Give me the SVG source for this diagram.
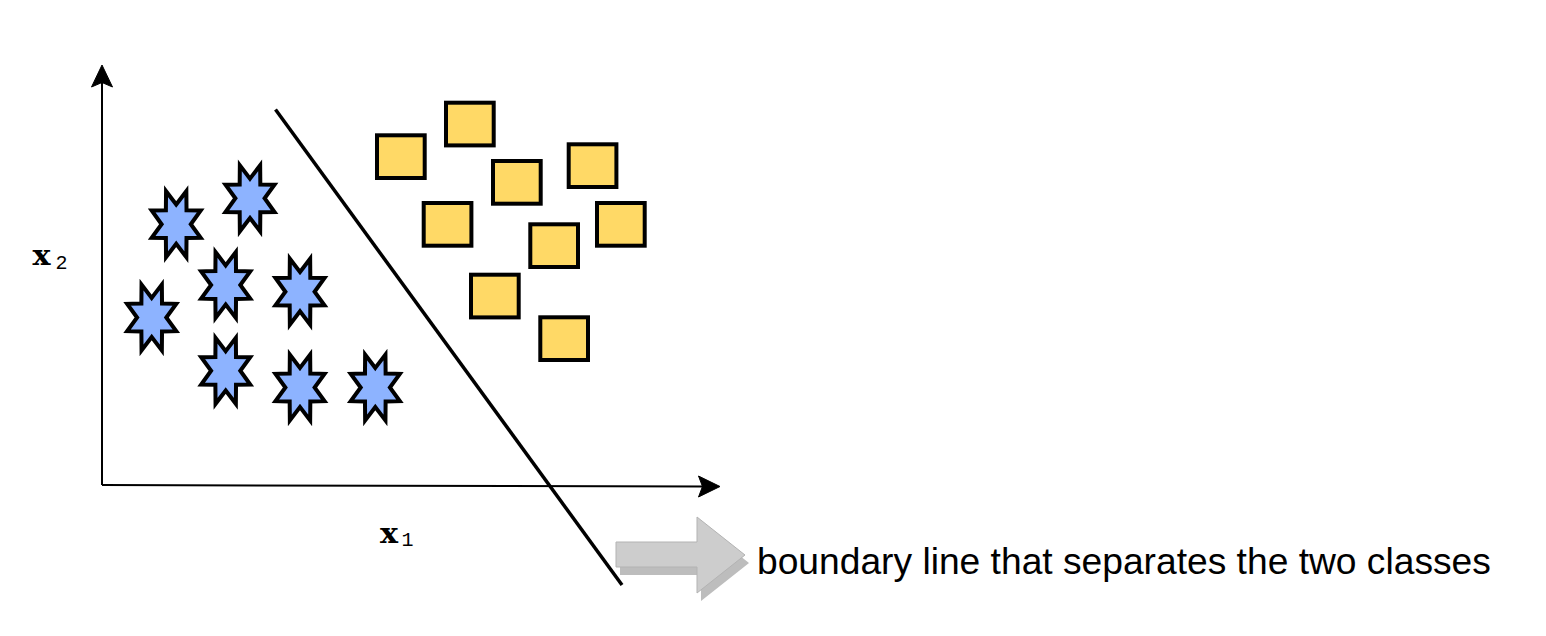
<svg xmlns="http://www.w3.org/2000/svg" width="1546" height="636" viewBox="0 0 1546 636">
  <style>
    .star { fill: #8DB3FF; stroke: #000000; stroke-width: 4; stroke-linejoin: miter; stroke-miterlimit: 6; }
    .sq { fill: #FFD966; stroke: #000000; stroke-width: 4; }
    .axis { fill: none; stroke: #000000; stroke-width: 2; }
    .head { fill: #000000; stroke: #000000; stroke-width: 1; }
    .var { font-family: "DejaVu Serif", "Liberation Serif", serif; font-weight: bold; fill: #000000; }
    .sub { font-family: "Liberation Mono", "Courier New", monospace; fill: #000000; }
    .caption { font-family: "Liberation Sans", Arial, sans-serif; font-size: 37.2px; fill: #000000; }
  </style>
  <defs>
    <path id="starShape" d="M0,-19.64 L10.15,-32.98 L10.32,-13.89 L24.52,-13.66 L14.6,0 L24.52,13.66 L10.32,13.89 L10.15,32.98 L0,19.64 L-10.15,32.98 L-10.32,13.89 L-24.52,13.66 L-14.6,0 L-24.52,-13.66 L-10.32,-13.89 L-10.15,-32.98 Z"/>
  </defs>
  <rect width="1546" height="636" fill="#FFFFFF"/>

  <g id="connectors">
    <path class="axis" d="M102,485 L102,80"/>
    <polygon class="head" points="102,65 112.5,87 102,82.5 91.5,87"/>
    <path class="axis" d="M102,485 L706,486.5"/>
    <polygon class="head" points="720,486.5 698.5,497 702.5,486.5 698.5,476"/>
    <line id="boundary" x1="275.5" y1="109.5" x2="622" y2="585" stroke="#000000" stroke-width="3.5"/>
  </g>

  <g id="label-x2">
    <text class="var" x="32.5" y="265" font-size="28" transform="translate(32.5,0) scale(1.08,1) translate(-32.5,0)">x</text>
    <text class="sub" x="55.5" y="269.3" font-size="20">2</text>
  </g>
  <g id="label-x1">
    <text class="var" x="380" y="543.3" font-size="28" transform="translate(380,0) scale(1.08,1) translate(-380,0)">x</text>
    <text class="sub" x="401.5" y="546" font-size="20">1</text>
  </g>

  <g id="stars">
    <use id="star1" href="#starShape" class="star" x="176.2" y="224.2"/>
    <use id="star2" href="#starShape" class="star" x="250" y="198.3"/>
    <use id="star3" href="#starShape" class="star" x="225.7" y="285"/>
    <use id="star4" href="#starShape" class="star" x="300" y="291.7"/>
    <use id="star5" href="#starShape" class="star" x="151.7" y="317.5"/>
    <use id="star6" href="#starShape" class="star" x="225.7" y="370.8"/>
    <use id="star7" href="#starShape" class="star" x="300" y="387.5"/>
    <use id="star8" href="#starShape" class="star" x="375.3" y="387.5"/>
  </g>

  <g id="squares">
    <rect id="sq1" class="sq" x="377" y="135.3" width="47.7" height="42.7"/>
    <rect id="sq2" class="sq" x="446" y="102.7" width="47.7" height="42.7"/>
    <rect id="sq3" class="sq" x="493" y="161" width="47.7" height="42.7"/>
    <rect id="sq4" class="sq" x="568.7" y="144.3" width="47.7" height="42.7"/>
    <rect id="sq5" class="sq" x="423.7" y="203" width="47.7" height="42.7"/>
    <rect id="sq6" class="sq" x="530.3" y="224.3" width="47.7" height="42.7"/>
    <rect id="sq7" class="sq" x="597" y="203" width="47.7" height="42.7"/>
    <rect id="sq8" class="sq" x="471" y="274.7" width="47.7" height="42.7"/>
    <rect id="sq9" class="sq" x="540.3" y="317.3" width="47.7" height="42.7"/>
  </g>

  <g id="pointer-arrow">
    <polygon points="620,550 701,550 701,525 749,563 701,601 701,575 620,575" fill="#BDBDBD"/>
    <polygon points="616,542 697,542 697,517 745,555 697,593 697,567 616,567" fill="#CDCDCD" stroke="#B3B3B3" stroke-width="1"/>
  </g>

  <g id="caption">
    <text class="caption" x="757" y="574">boundary line that separates the two classes</text>
  </g>
</svg>
